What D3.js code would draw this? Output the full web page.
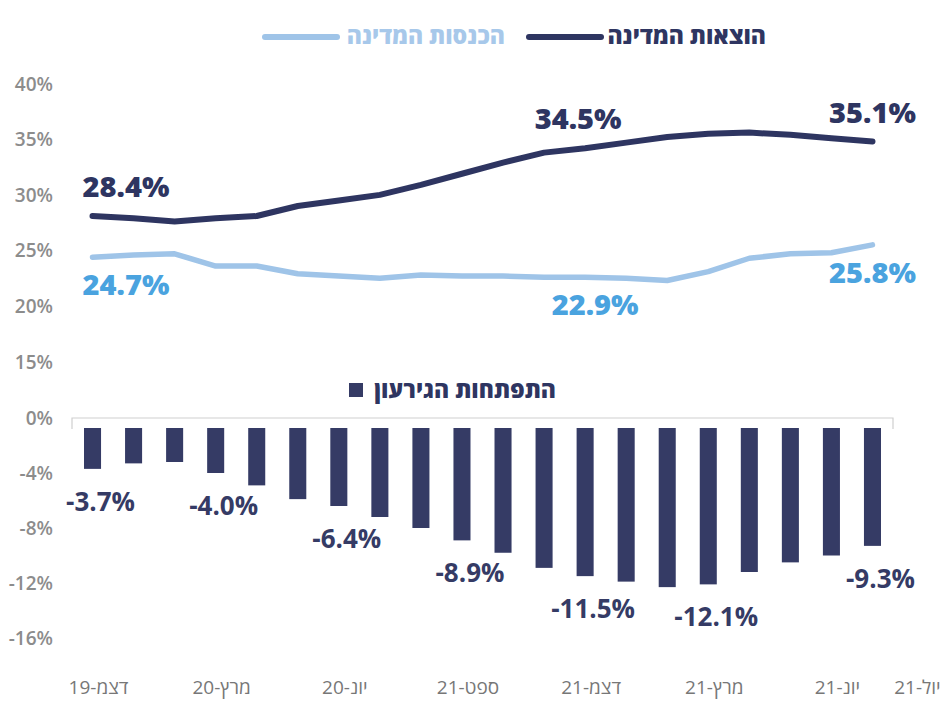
<!DOCTYPE html>
<html><head><meta charset="utf-8">
<script src="https://cdn.jsdelivr.net/npm/d3@7"></script>
<style>
html,body{margin:0;padding:0;background:#fff;}
svg{display:block;}
text{font-family:"Open Sans","Liberation Sans","DejaVu Sans",sans-serif;}
</style></head>
<body>
<svg id="chart" width="948" height="701"></svg>
<script>
const months = ["דצמ-19","ינו-20","פבר-20","מרץ-20","אפר-20","מאי-20","יונ-20","יול-20","אוג-20","ספט-20","אוק-20","נוב-20","דצמ-20","ינו-21","פבר-21","מרץ-21","אפר-21","מאי-21","יונ-21","יול-21"];
const expenditure = [28.4,28.2,27.9,28.2,28.4,29.3,29.8,30.3,31.2,32.2,33.2,34.1,34.5,35.0,35.5,35.8,35.9,35.7,35.4,35.1];
const revenue = [24.7,24.9,25.0,23.9,23.9,23.2,23.0,22.8,23.1,23.0,23.0,22.9,22.9,22.8,22.6,23.4,24.6,25.0,25.1,25.8];
const deficit = [-3.7,-3.3,-3.2,-4.0,-4.9,-5.9,-6.4,-7.2,-8.0,-8.9,-9.8,-10.9,-11.5,-11.9,-12.3,-12.1,-11.2,-10.5,-10.0,-9.3];
const topTicks = [40,35,30,25,20,15];
const bottomTicks = [0,-4,-8,-12,-16];
const tickCats = ["דצמ-19","מרץ-20","יונ-20","ספט-20","דצמ-20","מרץ-21","יונ-21","יול-21"];
const tickLabels = ["דצמ-19","מרץ-20","יונ-20","ספט-21","דצמ-21","מרץ-21","יונ-21","יול-21"];
const labelIdx = [0,3,6,9,12,15,19];
const lineLabelIdx = [0,12,19];
const seriesNames = ["הוצאות המדינה","הכנסות המדינה","התפתחות הגירעון"];

const DARK="#2e3561", BAR="#353b65", LIGHT="#9fc4e8", LIGHTTXT="#4aa3df", GRAY="#8c8c8c";
const svg = d3.select("#chart");

const x = d3.scaleBand().domain(months).range([72,893]).paddingInner(0.585).paddingOuter(0.2925);
const cx = d => x(d) + x.bandwidth()/2;
const yTop = d3.scaleLinear().domain([15,40]).range([365,87]);
const yBot = d3.scaleLinear().domain([-16,0]).range([638,418]);

// y axis labels
svg.append("g").selectAll("text").data(topTicks).join("text")
  .attr("x",53).attr("y",d=>yTop(d)-3).attr("dy","0.35em").attr("text-anchor","end")
  .attr("fill",GRAY).attr("font-size",19).attr("font-weight",600).text(d=>d+"%");
svg.append("g").selectAll("text").data(bottomTicks).join("text")
  .attr("x",53).attr("y",d=>yBot(d)).attr("dy","0.35em").attr("text-anchor","end")
  .attr("fill",GRAY).attr("font-size",19).attr("font-weight",600).text(d=>d+"%");

// zero axis line with end ticks
const [r0,r1] = x.range();
svg.append("path").attr("d",`M${r0},${yBot(0)+11}V${yBot(0)}H${r1}V${yBot(0)+11}`)
  .attr("fill","none").attr("stroke","#cfcfcf").attr("stroke-width",1.2);

// bars
svg.append("g").selectAll("rect").data(months).join("rect")
  .attr("x",d=>x(d)).attr("width",x.bandwidth())
  .attr("y",yBot(0)+10).attr("height",(d,i)=>yBot(deficit[i])-yBot(0)-10)
  .attr("fill",BAR);

// bar labels
svg.append("g").selectAll("text").data(labelIdx).join("text")
  .attr("x",i=>cx(months[i])+8).attr("y",i=>yBot(deficit[i])+33).attr("dy","0.35em")
  .attr("text-anchor","middle").attr("fill",BAR).attr("font-size",26).attr("font-weight",700)
  .text(i=>"-"+Math.abs(deficit[i]).toFixed(1)+"%");

// lines
const line = arr => d3.line().x((d,i)=>cx(months[i])).y(d=>yTop(d))(arr);
svg.append("path").attr("d",line(revenue)).attr("fill","none").attr("stroke",LIGHT)
  .attr("stroke-width",5.5).attr("stroke-linecap","round").attr("stroke-linejoin","round");
svg.append("path").attr("d",line(expenditure)).attr("fill","none").attr("stroke",DARK)
  .attr("stroke-width",6).attr("stroke-linecap","round").attr("stroke-linejoin","round");

// line labels
const anch = i => i===0 ? "start" : "middle";
const dxl = i => i===0 ? -10 : 0;
svg.append("g").selectAll("text").data(lineLabelIdx).join("text")
  .attr("x",i=>cx(months[i])+dxl(i)-(i===12?7:0)).attr("y",i=>yTop(expenditure[i])-29).attr("dy","0.35em")
  .attr("text-anchor",anch).attr("fill",DARK).attr("font-size",29).attr("font-weight",800)
  .text(i=>expenditure[i].toFixed(1)+"%");
svg.append("g").selectAll("text").data(lineLabelIdx).join("text")
  .attr("x",i=>cx(months[i])+dxl(i)+(i===12?10:0)).attr("y",i=>yTop(revenue[i])+28).attr("dy","0.35em")
  .attr("text-anchor",anch).attr("fill",LIGHTTXT).attr("font-size",29).attr("font-weight",800)
  .text(i=>revenue[i].toFixed(1)+"%");

// x axis labels
svg.append("g").selectAll("text").data(tickCats).join("text")
  .attr("x",(d,i)=>cx(d)+(i===tickCats.length-1?45:6)).attr("y",687).attr("dy","0.35em")
  .attr("text-anchor","middle")
  .attr("fill","#777777").attr("font-size",19).attr("font-weight",400)
  .attr("font-family","'DejaVu Sans Condensed','DejaVu Sans',sans-serif")
  .text((d,i)=>tickLabels[i]);

// legend top
const lg = svg.append("g");
lg.append("text").attr("x",766).attr("y",36).attr("dy","0.35em").attr("text-anchor","end")
  .attr("fill",DARK).attr("font-size",23).attr("font-weight",800).text(seriesNames[0]);
lg.append("line").attr("x1",529).attr("x2",601).attr("y1",37).attr("y2",37)
  .attr("stroke",DARK).attr("stroke-width",6).attr("stroke-linecap","round");
lg.append("text").attr("x",505).attr("y",36).attr("dy","0.35em").attr("text-anchor","end")
  .attr("fill","#a7c8ea").attr("font-size",23).attr("font-weight",800).text(seriesNames[1]);
lg.append("line").attr("x1",265).attr("x2",337).attr("y1",37).attr("y2",37)
  .attr("stroke",LIGHT).attr("stroke-width",6).attr("stroke-linecap","round");

// bar legend
svg.append("rect").attr("x",349).attr("y",383).attr("width",14).attr("height",14).attr("fill",BAR);
svg.append("text").attr("x",556).attr("y",390).attr("dy","0.35em").attr("text-anchor","end")
  .attr("fill",DARK).attr("font-size",23).attr("font-weight",800).text(seriesNames[2]);
</script>
</body></html>
